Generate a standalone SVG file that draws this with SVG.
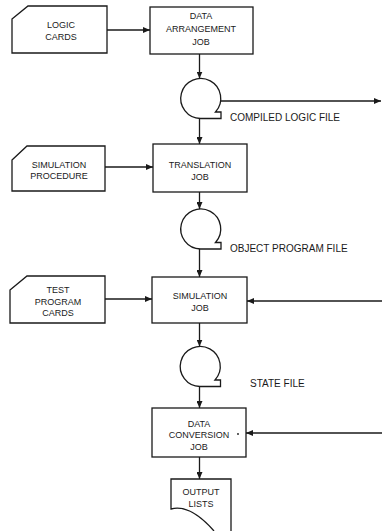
<svg xmlns="http://www.w3.org/2000/svg" width="382" height="531" viewBox="0 0 382 531">
<style>
.s{fill:none;stroke:#1a1a1a;stroke-width:1.3}
.t{font-family:"Liberation Sans",Arial,sans-serif;font-size:9px;fill:#1a1a1a;text-anchor:middle}
.f{font-family:"Liberation Sans",Arial,sans-serif;font-size:10px;fill:#1a1a1a}
</style>
<defs>
<marker id="ah" markerUnits="userSpaceOnUse" markerWidth="7" markerHeight="6" refX="7" refY="3" orient="auto">
<path d="M0,0 L7,3 L0,6 Z" fill="#1a1a1a"/>
</marker>
</defs>
<rect width="382" height="531" fill="#fff"/>
<g id="connectors" class="s">
<line x1="107" y1="30" x2="150" y2="30" marker-end="url(#ah)"/>
<line x1="199.5" y1="54" x2="199.5" y2="78.5" marker-end="url(#ah)"/>
<line x1="220.5" y1="101" x2="381" y2="101" marker-end="url(#ah)"/>
<line x1="199.5" y1="118.5" x2="199.5" y2="144" marker-end="url(#ah)"/>
<line x1="105" y1="167" x2="153" y2="167" marker-end="url(#ah)"/>
<line x1="199.5" y1="192" x2="199.5" y2="209" marker-end="url(#ah)"/>
<line x1="199.5" y1="249" x2="199.5" y2="277" marker-end="url(#ah)"/>
<line x1="105" y1="299" x2="152" y2="299" marker-end="url(#ah)"/>
<line x1="382" y1="301" x2="247" y2="301" marker-end="url(#ah)"/>
<line x1="199.5" y1="323" x2="199.5" y2="346.5" marker-end="url(#ah)"/>
<line x1="199.5" y1="386.5" x2="199.5" y2="408" marker-end="url(#ah)"/>
<line x1="382" y1="433" x2="246" y2="433" marker-end="url(#ah)"/>
<line x1="199.5" y1="457" x2="199.5" y2="479" marker-end="url(#ah)"/>
</g>
<g id="logic-cards">
<path class="s" d="M12,19 L28,6 H107 V53 H12 Z"/>
<text class="t" x="61" y="27.5">LOGIC</text>
<text class="t" x="61" y="39.5">CARDS</text>
</g>
<g id="data-arrangement-job">
<rect class="s" x="150" y="7" width="103" height="47"/>
<text class="t" x="201" y="19">DATA</text>
<text class="t" x="201" y="32">ARRANGEMENT</text>
<text class="t" x="201" y="45">JOB</text>
</g>
<g id="compiled-logic-file">
<path class="s" d="M215.5,112 A20,20 0 1 0 200.5,118.5 H221 V112 Z"/>
<text class="f" x="230" y="120.5">COMPILED LOGIC FILE</text>
</g>
<g id="simulation-procedure">
<path class="s" d="M12,160 L27,146 H105 V191 H12 Z"/>
<text class="t" x="59" y="167.5">SIMULATION</text>
<text class="t" x="59" y="178.5">PROCEDURE</text>
</g>
<g id="translation-job">
<rect class="s" x="153" y="144" width="94" height="48"/>
<text class="t" x="200" y="167.5">TRANSLATION</text>
<text class="t" x="200" y="179.5">JOB</text>
</g>
<g id="object-program-file">
<path class="s" d="M215.5,242.5 A20,20 0 1 0 200.5,249 H221 V242.5 Z"/>
<text class="f" x="230" y="251.5">OBJECT PROGRAM FILE</text>
</g>
<g id="test-program-cards">
<path class="s" d="M10,290 L27,276 H105 V323 H10 Z"/>
<text class="t" x="58" y="292.5">TEST</text>
<text class="t" x="58" y="304.5">PROGRAM</text>
<text class="t" x="58" y="315.5">CARDS</text>
</g>
<g id="simulation-job">
<rect class="s" x="152" y="277" width="95" height="46"/>
<text class="t" x="200" y="298.5">SIMULATION</text>
<text class="t" x="200" y="310.5">JOB</text>
</g>
<g id="state-file">
<path class="s" d="M215,380 A20,20 0 1 0 200,386.5 H220.5 V380 Z"/>
<text class="f" x="250" y="386.5">STATE FILE</text>
</g>
<g id="data-conversion-job">
<rect class="s" x="152" y="408" width="94" height="49"/>
<text class="t" x="199" y="426.5">DATA</text>
<text class="t" x="199" y="437.5">CONVERSION</text>
<text class="t" x="199" y="449.5">JOB</text>
<circle cx="238" cy="434" r="0.9" fill="#1a1a1a"/>
</g>
<g id="output-lists">
<path class="s" d="M214,531 C200,515 186,505 171,509 V479 H231 V531"/>
<text class="t" x="201" y="495">OUTPUT</text>
<text class="t" x="201" y="506.5">LISTS</text>
</g>
</svg>
